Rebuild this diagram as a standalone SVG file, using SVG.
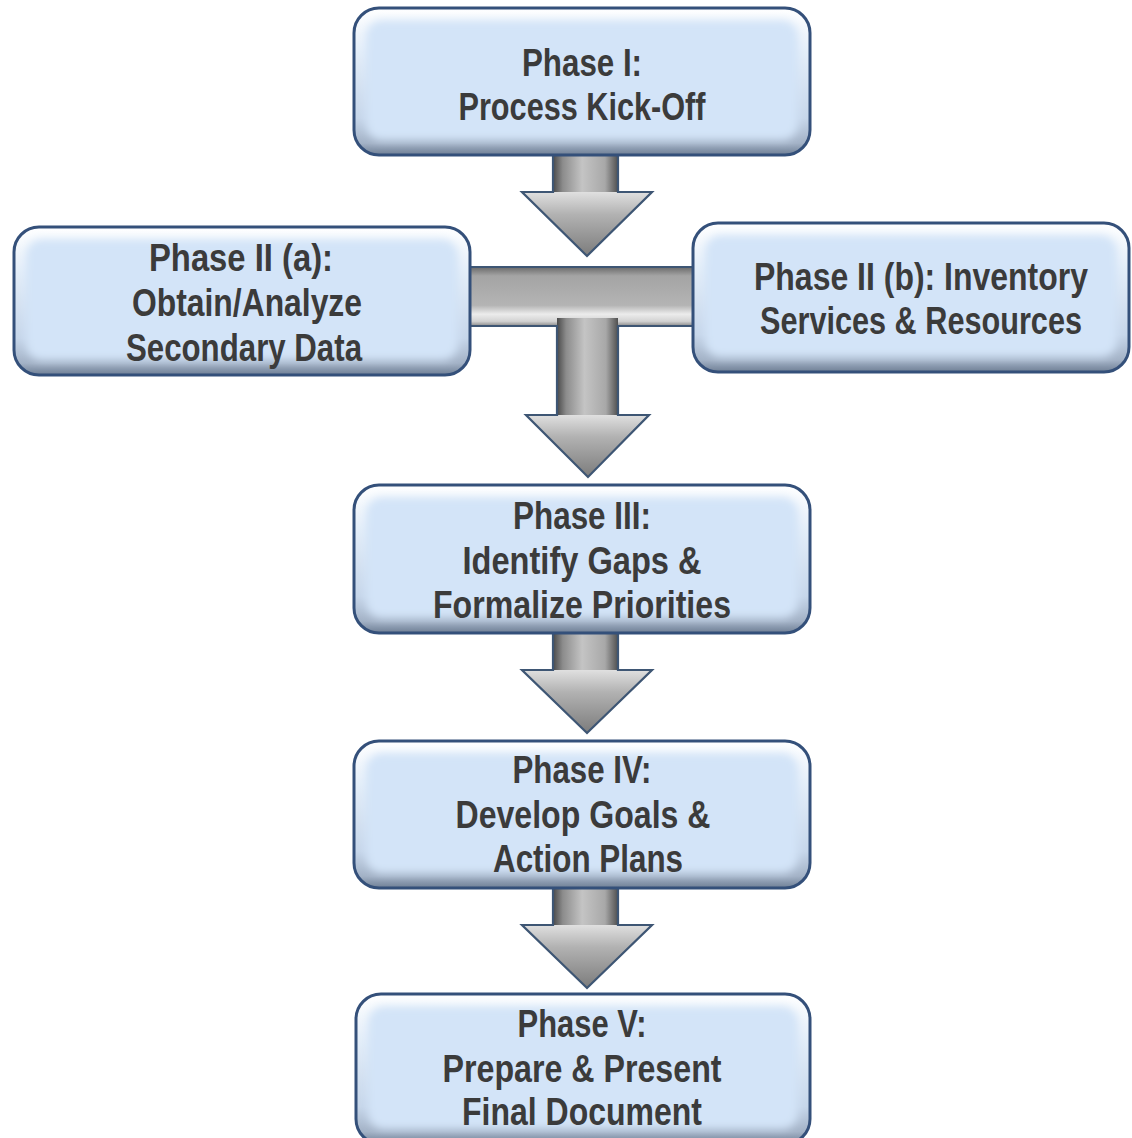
<svg xmlns="http://www.w3.org/2000/svg" width="1132" height="1138" viewBox="0 0 1132 1138">
<defs>
<style>
.t{font-family:"Liberation Sans Narrow","Liberation Sans",Arial,sans-serif;font-weight:bold;font-size:39px;fill:#3b3b3b;text-anchor:middle}
.outer{fill:url(#gOuter)}
.inner{fill:#d3e4f8;filter:url(#blur)}
.edge{fill:none;stroke:#34507a;stroke-width:3}
.shaft{fill:url(#gShaft)}
.head{fill:url(#gHead)}
.bar{fill:url(#gBar)}
.ol{fill:none;stroke:#3e5674;stroke-width:2.2;stroke-linejoin:miter}
</style>
<linearGradient id="gOuter" x1="0" y1="0" x2="0" y2="1">
<stop offset="0" stop-color="#ffffff"/>
<stop offset="0.3" stop-color="#e4eef9"/>
<stop offset="0.75" stop-color="#c6d6ea"/>
<stop offset="0.92" stop-color="#a3b2c6"/>
<stop offset="1" stop-color="#6f7f95"/>
</linearGradient>
<linearGradient id="gShaft" x1="0" y1="0" x2="1" y2="0">
<stop offset="0" stop-color="#4a4a4a"/>
<stop offset="0.15" stop-color="#8c8c8c"/>
<stop offset="0.45" stop-color="#c4c4c4"/>
<stop offset="0.8" stop-color="#a8a8a8"/>
<stop offset="1" stop-color="#505050"/>
</linearGradient>
<linearGradient id="gHead" x1="0" y1="0" x2="0" y2="1">
<stop offset="0" stop-color="#e0e0e0"/>
<stop offset="0.35" stop-color="#b2b2b2"/>
<stop offset="1" stop-color="#7c7c7c"/>
</linearGradient>
<linearGradient id="gBar" x1="0" y1="0" x2="0" y2="1">
<stop offset="0" stop-color="#6a6a6a"/>
<stop offset="0.15" stop-color="#a4a4a4"/>
<stop offset="0.65" stop-color="#b4b4b4"/>
<stop offset="0.8" stop-color="#ececec"/>
<stop offset="0.92" stop-color="#d2d2d2"/>
<stop offset="1" stop-color="#8a8a8a"/>
</linearGradient>
<filter id="blur" x="-5%" y="-10%" width="110%" height="120%">
<feGaussianBlur stdDeviation="4"/>
</filter>
</defs>
<rect width="1132" height="1138" fill="#ffffff"/>

<g id="connectors">
<g id="a1">
<rect class="shaft" x="553" y="150" width="65" height="43"/>
<polygon class="head" points="522,192 652,192 587,256"/>
<path class="ol" d="M553,150 V192 H522 L587,256 L652,192 H618 V150"/>
</g>
<g id="a2">
<rect class="bar" x="465" y="267" width="235" height="59"/>
<rect class="shaft" x="557" y="318" width="61" height="98"/>
<polygon class="head" points="526,415 649,415 588,477"/>
<path class="ol" d="M465,267 H700 M465,326 H557 V415 H526 L588,477 L649,415 H618 V326 H700"/>
</g>
<g id="a3">
<rect class="shaft" x="553" y="628" width="65" height="43"/>
<polygon class="head" points="522,670 652,670 587,733"/>
<path class="ol" d="M553,628 V670 H522 L587,733 L652,670 H618 V628"/>
</g>
<g id="a4">
<rect class="shaft" x="553" y="883" width="65" height="43"/>
<polygon class="head" points="522,925 652,925 587,988"/>
<path class="ol" d="M553,883 V925 H522 L587,988 L652,925 H618 V883"/>
</g>
</g>

<g id="phase1">
<rect class="outer" x="354" y="8" width="456" height="147" rx="25"/>
<rect class="inner" x="366" y="20" width="432" height="120" rx="16"/>
<rect class="edge" x="354" y="8" width="456" height="147" rx="25"/>
<text class="t" x="582" y="76" textLength="120" lengthAdjust="spacingAndGlyphs">Phase I:</text>
<text class="t" x="582" y="120" textLength="247" lengthAdjust="spacingAndGlyphs">Process Kick-Off</text>
</g>

<g id="phase2a">
<rect class="outer" x="14" y="227" width="456" height="148" rx="25"/>
<rect class="inner" x="26" y="239" width="432" height="121" rx="16"/>
<rect class="edge" x="14" y="227" width="456" height="148" rx="25"/>
<text class="t" x="241" y="271" textLength="184" lengthAdjust="spacingAndGlyphs">Phase II (a):</text>
<text class="t" x="247" y="316" textLength="230" lengthAdjust="spacingAndGlyphs">Obtain/Analyze</text>
<text class="t" x="244" y="361" textLength="236" lengthAdjust="spacingAndGlyphs">Secondary Data</text>
</g>

<g id="phase2b">
<rect class="outer" x="693" y="223" width="436" height="149" rx="25"/>
<rect class="inner" x="705" y="235" width="412" height="122" rx="16"/>
<rect class="edge" x="693" y="223" width="436" height="149" rx="25"/>
<text class="t" x="921" y="290" textLength="334" lengthAdjust="spacingAndGlyphs">Phase II (b): Inventory</text>
<text class="t" x="921" y="334" textLength="322" lengthAdjust="spacingAndGlyphs">Services &amp; Resources</text>
</g>

<g id="phase3">
<rect class="outer" x="354" y="485" width="456" height="148" rx="25"/>
<rect class="inner" x="366" y="497" width="432" height="121" rx="16"/>
<rect class="edge" x="354" y="485" width="456" height="148" rx="25"/>
<text class="t" x="582" y="529" textLength="138" lengthAdjust="spacingAndGlyphs">Phase III:</text>
<text class="t" x="582" y="574" textLength="239" lengthAdjust="spacingAndGlyphs">Identify Gaps &amp;</text>
<text class="t" x="582" y="618" textLength="298" lengthAdjust="spacingAndGlyphs">Formalize Priorities</text>
</g>

<g id="phase4">
<rect class="outer" x="354" y="741" width="456" height="147" rx="25"/>
<rect class="inner" x="366" y="753" width="432" height="120" rx="16"/>
<rect class="edge" x="354" y="741" width="456" height="147" rx="25"/>
<text class="t" x="582" y="783" textLength="139" lengthAdjust="spacingAndGlyphs">Phase IV:</text>
<text class="t" x="583" y="828" textLength="255" lengthAdjust="spacingAndGlyphs">Develop Goals &amp;</text>
<text class="t" x="588" y="872" textLength="190" lengthAdjust="spacingAndGlyphs">Action Plans</text>
</g>

<g id="phase5">
<rect class="outer" x="356" y="994" width="454" height="150" rx="25"/>
<rect class="inner" x="368" y="1006" width="430" height="123" rx="16"/>
<rect class="edge" x="356" y="994" width="454" height="150" rx="25"/>
<text class="t" x="582" y="1037" textLength="129" lengthAdjust="spacingAndGlyphs">Phase V:</text>
<text class="t" x="582" y="1082" textLength="279" lengthAdjust="spacingAndGlyphs">Prepare &amp; Present</text>
<text class="t" x="582" y="1125" textLength="240" lengthAdjust="spacingAndGlyphs">Final Document</text>
</g>
</svg>
